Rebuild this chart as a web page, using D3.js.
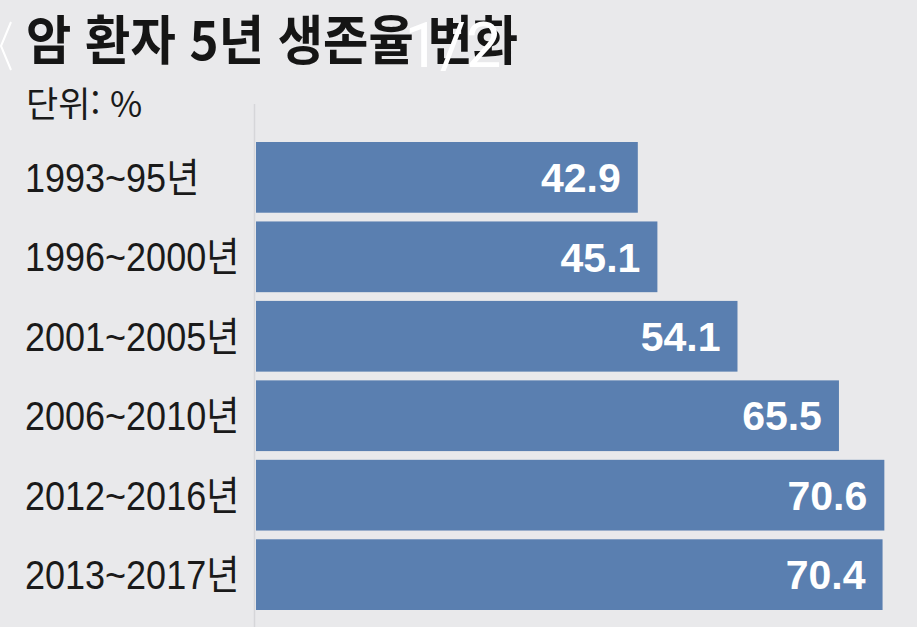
<!DOCTYPE html>
<html lang="ko">
<head>
    <meta charset="UTF-8">
    <title>암 환자 5년 생존율 변화</title>
    <script src="https://d3js.org/d3.v7.min.js"></script>
    <style>
        html, body { margin: 0; padding: 0; background: #e9e9eb; }
        svg { display: block; }
    </style>
</head>
<body>
    <div id="chart"></div>

    <script>
        // data
        const periods = ["1993~95년", "1996~2000년", "2001~2005년", "2006~2010년", "2012~2016년", "2013~2017년"];
        const survival = [42.9, 45.1, 54.1, 65.5, 70.6, 70.4];

        const width = 917;
        const height = 627;
        const font = "'Liberation Sans', 'Noto Sans CJK KR', sans-serif";

        const svg = d3.select("#chart")
            .append("svg")
            .attr("width", width)
            .attr("height", height);

        svg.append("rect")
            .attr("width", width)
            .attr("height", height)
            .attr("fill", "#e9e9eb");

        const x = d3.scaleLinear()
            .domain([0, 100])
            .range([256, 1146]);

        const y = d3.scaleBand()
            .domain(periods)
            .range([142, 610])
            .paddingInner(0.11);

        // title + unit (title squeezed to the narrow newspaper face)
        svg.append("text")
            .attr("transform", "translate(26,60) scale(0.93,1)")
            .attr("font-family", "'Noto Sans CJK KR', sans-serif")
            .attr("font-weight", 700)
            .attr("font-size", 53)
            .attr("fill", "#151515")
            .text("암 환자 5년 생존율 변화");

        svg.append("text")
            .attr("x", 26)
            .attr("y", 117)
            .attr("font-family", "'Noto Sans CJK KR', sans-serif")
            .attr("font-size", 35)
            .attr("fill", "#1a1a1a")
            .text("단위: %");

        // baseline axis
        svg.append("line")
            .attr("x1", x(0) - 1.5)
            .attr("x2", x(0) - 1.5)
            .attr("y1", 104)
            .attr("y2", height)
            .attr("stroke", "#d6d6d9")
            .attr("stroke-width", 1.5);

        const rows = svg.append("g")
            .selectAll("g")
            .data(periods)
            .join("g");

        rows.append("rect")
            .attr("x", x(0))
            .attr("y", d => y(d))
            .attr("width", (d, i) => x(survival[i]) - x(0))
            .attr("height", y.bandwidth())
            .attr("fill", "#5a7fb0");

        rows.append("text")
            .attr("x", (d, i) => x(survival[i]) - 17)
            .attr("y", d => y(d) + y.bandwidth() / 2)
            .attr("dy", "0.36em")
            .attr("text-anchor", "end")
            .attr("font-family", font)
            .attr("font-weight", 700)
            .attr("font-size", 41)
            .attr("fill", "#ffffff")
            .text((d, i) => survival[i].toFixed(1));

        // category labels, squeezed a little like the original face
        rows.append("text")
            .attr("transform", d => `translate(25,${y(d) + y.bandwidth() / 2}) scale(0.9,1)`)
            .attr("dy", "0.36em")
            .attr("font-family", font)
            .attr("font-size", 40)
            .attr("fill", "#1a1a1a")
            .text(d => d);

        // viewer overlay that sits on the photo
        svg.append("path")
            .attr("d", "M11,22 L1,46 L11,70")
            .attr("fill", "none")
            .attr("stroke", "#ffffff")
            .attr("stroke-width", 2);

        svg.append("text")
            .attr("x", 453)
            .attr("y", 67)
            .attr("text-anchor", "middle")
            .attr("font-family", "Roboto, sans-serif")
            .attr("font-size", 63)
            .attr("fill", "#ffffff")
            .text("1/2");
    </script>
</body>
</html>
